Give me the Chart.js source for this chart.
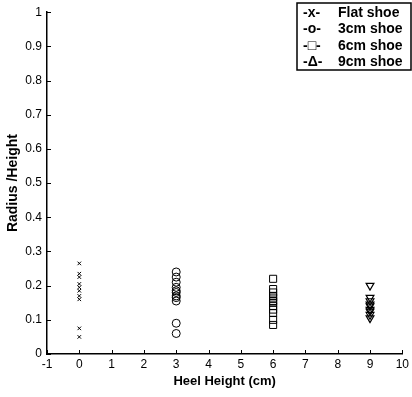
<!DOCTYPE html>
<html>
<head>
<meta charset="utf-8">
<script src="https://cdn.jsdelivr.net/npm/chart.js@4/dist/chart.umd.min.js"></script>
<style>
  html, body { margin: 0; padding: 0; background: #fff; }
  #wrap { width: 412px; height: 397px; position: relative; }
</style>
</head>
<body>
<div id="wrap"><canvas id="heel_chart"></canvas></div>
<script>
// heel height of each shoe group (cm)
var heelHeights = [0, 3, 6, 9];
var seriesNames = ["Flat shoe", "3cm shoe", "6cm shoe", "9cm shoe"];
var legendMarks = ["-x-", "-o-", "-\u25A1-", "-\u0394-"];

// radius / height ratios
var flatShoe = [0.265, 0.235, 0.225, 0.205, 0.195, 0.185, 0.17, 0.16, 0.075, 0.05];
var shoe3cm = [0.24, 0.225, 0.21, 0.195, 0.185, 0.18, 0.17, 0.165, 0.155, 0.09, 0.06];
var shoe6cm = [0.22, 0.19, 0.18, 0.17, 0.165, 0.155, 0.15, 0.14, 0.13, 0.12, 0.1, 0.085];
var shoe9cm = [0.2, 0.165, 0.155, 0.145, 0.14, 0.13, 0.125, 0.115, 0.105];

var xTicks = [-1, 0, 1, 2, 3, 4, 5, 6, 7, 8, 9, 10];
var yTicks = [0, 0.1, 0.2, 0.3, 0.4, 0.5, 0.6, 0.7, 0.8, 0.9, 1];

function points(x, values) {
    return values.map(function (v) { return { x: x, y: v }; });
}

// ticks pointing into the plot, like the original figure
var innerTicks = {
    id: 'innerTicks',
    afterDatasetsDraw: function (chart) {
        var ctx = chart.ctx, xs = chart.scales.x, ys = chart.scales.y;
        var a = chart.chartArea;
        ctx.save();
        ctx.strokeStyle = '#000';
        ctx.lineWidth = 1;
        xTicks.forEach(function (t) {
            var px = Math.round(xs.getPixelForValue(t)) + 0.5;
            ctx.beginPath();
            ctx.moveTo(px, a.bottom);
            ctx.lineTo(px, a.bottom - 4);
            ctx.stroke();
        });
        yTicks.forEach(function (t) {
            var py = Math.round(ys.getPixelForValue(t)) + 0.5;
            ctx.beginPath();
            ctx.moveTo(a.left, py);
            ctx.lineTo(a.left + 4, py);
            ctx.stroke();
        });
        ctx.restore();
    }
};

// boxed text legend in the upper right corner
var boxLegend = {
    id: 'boxLegend',
    afterDraw: function (chart) {
        var ctx = chart.ctx;
        var left = 297, top = 3, right = chart.width - 1, bottom = 70;
        ctx.save();
        ctx.fillStyle = '#fff';
        ctx.fillRect(left, top, right - left, bottom - top);
        ctx.strokeStyle = '#000';
        ctx.lineWidth = 1.5;
        ctx.strokeRect(left, top, right - left, bottom - top);
        ctx.fillStyle = '#000';
        ctx.font = 'bold 14px "Liberation Sans", Arial, sans-serif';
        ctx.textBaseline = 'middle';
        seriesNames.forEach(function (name, i) {
            var y = top + 10 + i * 16.5;
            ctx.fillText(legendMarks[i], left + 6, y);
            ctx.fillText(name, left + 41, y);
        });
        ctx.restore();
    }
};

var font = { family: '"Liberation Sans", Arial, sans-serif', size: 12 };

new Chart(document.getElementById("heel_chart").getContext("2d"), {
    type: 'scatter',
    data: {
        datasets: [{
            label: seriesNames[0],
            data: points(heelHeights[0], flatShoe),
            pointStyle: 'crossRot',
            pointRadius: 2.5,
            borderColor: '#000',
            borderWidth: 1
        }, {
            label: seriesNames[1],
            data: points(heelHeights[1], shoe3cm),
            pointStyle: 'circle',
            pointRadius: 4,
            borderColor: '#000',
            backgroundColor: 'rgba(0,0,0,0)',
            borderWidth: 1
        }, {
            label: seriesNames[2],
            data: points(heelHeights[2], shoe6cm),
            pointStyle: 'rect',
            pointRadius: 5,
            borderColor: '#000',
            backgroundColor: 'rgba(0,0,0,0)',
            borderWidth: 1
        }, {
            label: seriesNames[3],
            data: points(heelHeights[3], shoe9cm),
            pointStyle: 'triangle',
            rotation: 180,
            pointRadius: 4.5,
            borderColor: '#000',
            backgroundColor: 'rgba(0,0,0,0)',
            borderWidth: 1.2
        }]
    },
    options: {
        responsive: true,
        maintainAspectRatio: false,
        animation: false,
        layout: { padding: { top: 2, right: 5, left: 5, bottom: 8 } },
        plugins: {
            legend: { display: false },
            tooltip: { enabled: false }
        },
        scales: {
            x: {
                type: 'linear',
                min: -1,
                max: 10,
                afterBuildTicks: function (s) { s.ticks = xTicks.map(function (v) { return { value: v }; }); },
                afterFit: function (s) { s.height = 35; },
                grid: { drawOnChartArea: false, drawTicks: false },
                border: { display: true, color: '#000', width: 1.5 },
                ticks: { color: '#000', font: font, padding: 3, maxRotation: 0 },
                title: {
                    display: true,
                    text: 'Heel Height (cm)',
                    color: '#000',
                    font: { family: font.family, size: 13, weight: 'bold' },
                    padding: { top: 0, bottom: 0 }
                }
            },
            y: {
                type: 'linear',
                min: 0,
                max: 1,
                afterBuildTicks: function (s) { s.ticks = yTicks.map(function (v) { return { value: v }; }); },
                afterFit: function (s) { s.width = 42; },
                grid: { drawOnChartArea: false, drawTicks: false },
                border: { display: true, color: '#000', width: 1.5 },
                ticks: {
                    color: '#000',
                    font: font,
                    padding: 5,
                    callback: function (v) { return String(Math.round(v * 10) / 10); }
                },
                title: {
                    display: true,
                    text: 'Radius /Height',
                    color: '#000',
                    font: { family: font.family, size: 14, weight: 'bold' },
                    padding: { top: 0, bottom: 0 }
                }
            }
        }
    },
    plugins: [innerTicks, boxLegend]
});
</script>
</body>
</html>
